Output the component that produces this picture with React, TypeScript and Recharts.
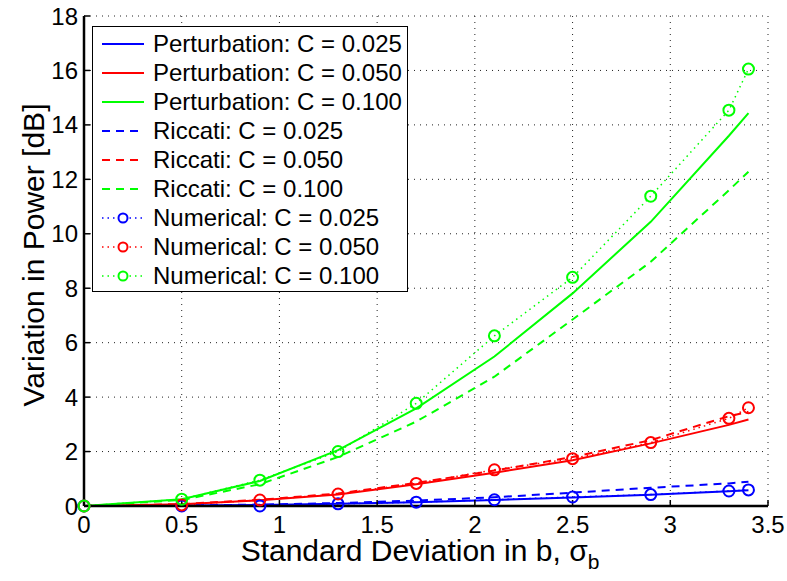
import { CartesianGrid, Legend, Line, LineChart, XAxis, YAxis } from "recharts"

const sigma = [0, 0.5, 0.9, 1.3, 1.7, 2.1, 2.5, 2.9, 3.3, 3.4]

const pert025 = [0, 0.02, 0.04, 0.08, 0.14, 0.22, 0.31, 0.41, 0.54, 0.58]
const pert050 = [0, 0.06, 0.21, 0.42, 0.8, 1.22, 1.68, 2.3, 2.98, 3.18]
const pert100 = [0, 0.25, 0.92, 2.05, 3.59, 5.49, 7.81, 10.44, 13.6, 14.43]

const ricc025 = [0, 0.02, 0.05, 0.11, 0.2, 0.32, 0.49, 0.67, 0.83, 0.89]
const ricc050 = [0, 0.07, 0.23, 0.46, 0.85, 1.3, 1.8, 2.42, 3.3, 3.46]
const ricc100 = [0, 0.22, 0.8, 1.8, 3.1, 4.75, 6.85, 8.97, 11.6, 12.28]

const num025 = [0, 0, 0, 0.08, 0.14, 0.23, 0.33, 0.42, 0.55, 0.59]
const num050 = [0, 0.04, 0.22, 0.44, 0.83, 1.33, 1.74, 2.33, 3.22, 3.61]
const num100 = [0, 0.25, 0.95, 2.0, 3.77, 6.25, 8.4, 11.38, 14.54, 16.05]

const xTicks = [0, 0.5, 1, 1.5, 2, 2.5, 3, 3.5]
const yTicks = [0, 2, 4, 6, 8, 10, 12, 14, 16, 18]

const BLUE = "#0000ff"
const RED = "#ff0000"
const GREEN = "#00ff00"
const FONT = "'Liberation Sans', Arial, Helvetica, sans-serif"

const data = sigma.map((x, i) => ({
  x,
  p1: pert025[i],
  p2: pert050[i],
  p3: pert100[i],
  r1: ricc025[i],
  r2: ricc050[i],
  r3: ricc100[i],
  n1: num025[i],
  n2: num050[i],
  n3: num100[i],
}))

type Kind = "solid" | "dashed" | "dotted"

const series: { key: string; name: string; color: string; kind: Kind }[] = [
  { key: "p1", name: "Perturbation: C = 0.025", color: BLUE, kind: "solid" },
  { key: "p2", name: "Perturbation: C = 0.050", color: RED, kind: "solid" },
  { key: "p3", name: "Perturbation: C = 0.100", color: GREEN, kind: "solid" },
  { key: "r1", name: "Riccati: C = 0.025", color: BLUE, kind: "dashed" },
  { key: "r2", name: "Riccati: C = 0.050", color: RED, kind: "dashed" },
  { key: "r3", name: "Riccati: C = 0.100", color: GREEN, kind: "dashed" },
  { key: "n1", name: "Numerical: C = 0.025", color: BLUE, kind: "dotted" },
  { key: "n2", name: "Numerical: C = 0.050", color: RED, kind: "dotted" },
  { key: "n3", name: "Numerical: C = 0.100", color: GREEN, kind: "dotted" },
]

const dashFor = (k: Kind) => (k === "dashed" ? "8 6" : k === "dotted" ? "1.5 4" : undefined)

function Circle(color: string) {
  return (props: any) => {
    const { cx, cy, index } = props
    if (cx == null || cy == null) return <g key={index} />
    return (
      <circle key={index} cx={cx} cy={cy} r={5.5} fill="none" stroke={color} strokeWidth={2} />
    )
  }
}

function LegendBox() {
  return (
    <div
      style={{
        border: "1.5px solid #000",
        background: "#fff",
        width: 314,
        padding: "2px 0 1px 0",
        fontFamily: FONT,
        fontSize: 24,
        color: "#000",
      }}
    >
      {series.map((s) => (
        <div key={s.key} style={{ display: "flex", alignItems: "center", height: 29 }}>
          <svg width={56} height={20} style={{ marginLeft: 8 }}>
            <line
              x1={1}
              x2={43}
              y1={10}
              y2={10}
              stroke={s.color}
              strokeWidth={s.kind === "dotted" ? 1.5 : 2}
              strokeDasharray={dashFor(s.kind)}
            />
            {s.kind === "dotted" && (
              <circle cx={22} cy={10} r={4.5} fill="#fff" stroke={s.color} strokeWidth={2} />
            )}
          </svg>
          <span style={{ marginLeft: -4, lineHeight: 1 }}>{s.name}</span>
        </div>
      ))}
    </div>
  )
}

export default function App() {
  return (
    <div style={{ position: "absolute", left: 0, top: 0, background: "#fff" }}>
      <LineChart
        width={787}
        height={581}
        data={data}
        margin={{ top: 16, right: 19, bottom: 0, left: 0 }}
      >
        <CartesianGrid stroke="#222" strokeDasharray="1 5" strokeWidth={1} />
        <XAxis
          dataKey="x"
          type="number"
          domain={[0, 3.5]}
          ticks={xTicks}
          height={75}
          axisLine={{ stroke: "#000", strokeWidth: 2.5 }}
          tickLine={{ stroke: "#000", strokeWidth: 1.5 }}
          tickSize={-6}
          tickMargin={16}
          tick={{ fill: "#000", fontSize: 24, fontFamily: FONT }}
          label={(p: any) => {
            const vb = p.viewBox
            return (
              <text
                x={vb.x + vb.width / 2 - 6}
                y={vb.y + 55}
                textAnchor="middle"
                fontSize={30}
                fontFamily={FONT}
                fill="#000"
              >
                Standard Deviation in b, σ
                <tspan fontSize={21} dy={8}>
                  b
                </tspan>
              </text>
            )
          }}
        />
        <YAxis
          type="number"
          domain={[0, 18]}
          ticks={yTicks}
          width={84}
          axisLine={{ stroke: "#000", strokeWidth: 2.5 }}
          tickLine={{ stroke: "#000", strokeWidth: 1.5 }}
          tickSize={-6}
          tickMargin={12}
          tick={{ fill: "#000", fontSize: 24, fontFamily: FONT }}
          label={(p: any) => {
            const vb = p.viewBox
            const cx = 33
            const cy = vb.y + vb.height / 2 - 6
            return (
              <text
                x={cx}
                y={cy}
                transform={`rotate(-90 ${cx} ${cy})`}
                textAnchor="middle"
                dominantBaseline="central"
                fontSize={30}
                fontFamily={FONT}
                fill="#000"
              >
                Variation in Power [dB]
              </text>
            )
          }}
        />
        <Legend
          layout="vertical"
          align="center"
          verticalAlign="middle"
          wrapperStyle={{ left: 92, top: 26, width: 318 }}
          content={() => <LegendBox />}
        />
        {series.map((s) => (
          <Line
            key={s.key}
            dataKey={s.key}
            name={s.name}
            type="linear"
            stroke={s.color}
            strokeWidth={s.kind === "dotted" ? 1.5 : 2}
            strokeDasharray={dashFor(s.kind)}
            dot={s.kind === "dotted" ? Circle(s.color) : false}
            activeDot={false}
            isAnimationActive={false}
          />
        ))}
      </LineChart>
    </div>
  )
}
